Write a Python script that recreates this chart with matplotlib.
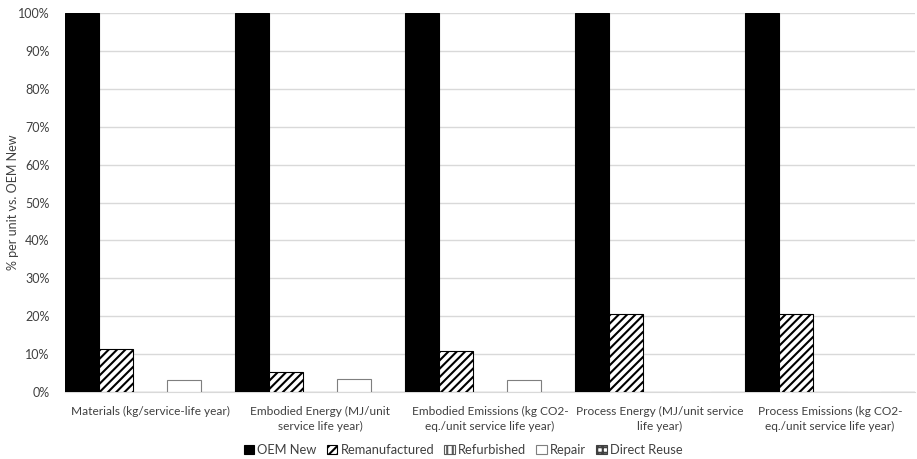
import numpy as np
import matplotlib.pyplot as plt
from matplotlib.patches import Patch

categories = ["Materials (kg/service-life year)",
              "Embodied Energy (MJ/unit\nservice life year)",
              "Embodied Emissions (kg CO2-\neq./unit service life year)",
              "Process Energy (MJ/unit service\nlife year)",
              "Process Emissions (kg CO2-\neq./unit service life year)"]
series = ["OEM New", "Remanufactured", "Refurbished", "Repair", "Direct Reuse"]
oem_new = [100, 100, 100, 100, 100]
remanufactured = [11.3, 5.2, 10.9, 20.5, 20.5]
refurbished = [0, 0, 0, 0, 0]
repair = [3.2, 3.5, 3.2, 0, 0]
direct_reuse = [0, 0, 0, 0, 0]
values = [oem_new, remanufactured, refurbished, repair, direct_reuse]

styles = [dict(color="black", edgecolor="black", hatch=None),
          dict(color="white", edgecolor="black", hatch="////"),
          dict(color="white", edgecolor="#595959", hatch="|||"),
          dict(color="white", edgecolor="#7f7f7f", hatch=None),
          dict(color="white", edgecolor="#404040", hatch="+++")]

plt.rcParams['font.family'] = ['Lato', 'DejaVu Sans']
plt.rcParams['hatch.linewidth'] = 1.5

fig = plt.figure(figsize=(9.17, 4.59), dpi=100)
ax = fig.add_axes([65/917, 1-392/459, 850/917, (392-13)/459])

x = np.arange(len(categories))
w = 0.2
for i, (vals, st) in enumerate(zip(values, styles)):
    ax.bar(x - 0.5 + w*i, vals, width=w, align='edge', facecolor=st["color"],
           edgecolor=st["edgecolor"], hatch=st["hatch"], linewidth=0.8, zorder=3)

ax.set_xlim(-0.5, 4.5)
ax.set_ylim(0, 100)
ax.set_yticks(np.arange(0, 101, 10))
ax.set_yticklabels([f"{v}%" for v in range(0, 101, 10)], fontsize=9, color="#404040")
ax.set_xticks(x)
ax.set_xticklabels(categories, fontsize=8.6, color="#404040", linespacing=1.4)
ax.tick_params(length=0, pad=10)
ax.tick_params(axis='y', pad=11)
ax.grid(axis='y', color="#d9d9d9", linewidth=1, zorder=0)
for s in ["left", "right", "top"]:
    ax.spines[s].set_visible(False)
ax.spines["bottom"].set_color("#d9d9d9")
fig.text(13/917, 1-202/459, "% per unit vs. OEM New", rotation=90, ha="center", va="center",
         fontsize=9, color="#404040")

handles = [Patch(facecolor=st["color"], edgecolor=st["edgecolor"], hatch=st["hatch"], linewidth=0.8)
           for st in styles]
leg = fig.legend(handles, series, loc="center", bbox_to_anchor=(463/917, 1-450/459), ncol=5,
                 frameon=False, fontsize=9.3, handlelength=0.8, handleheight=0.8,
                 handletextpad=0.25, columnspacing=0.8)
for t in leg.get_texts():
    t.set_color("#404040")

fig.savefig("out.png", dpi=100)
